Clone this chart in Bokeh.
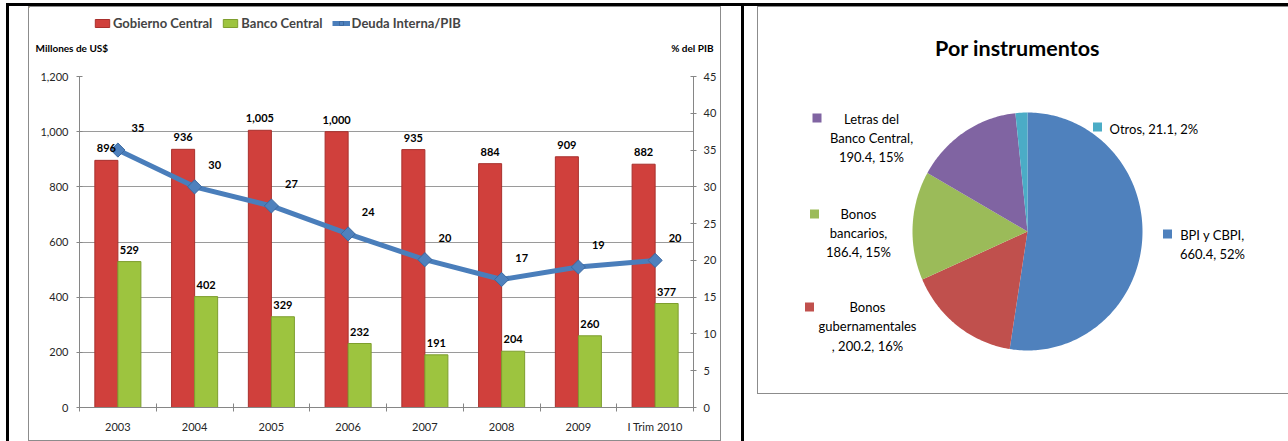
import numpy as np
from bokeh.plotting import figure
from bokeh.models import (Range1d, LinearAxis, FixedTicker, SingleIntervalTicker,
                          NumeralTickFormatter, Legend, LegendItem, Grid, Spacer)
from bokeh.layouts import row, column
from bokeh.core.properties import value
from bokeh.embed import file_html
from bokeh.resources import INLINE

# ---------------- data: bar/line chart ----------------
categories = ["2003", "2004", "2005", "2006", "2007", "2008", "2009", "I Trim 2010"]
gobierno_central = [896, 936, 1005, 1000, 935, 884, 909, 882]
banco_central = [529, 402, 329, 232, 191, 204, 260, 377]
deuda_pib = [35.0, 30.0, 27.4, 23.6, 20.1, 17.4, 19.1, 20.0]
series_names = ["Gobierno Central", "Banco Central", "Deuda Interna/PIB"]
left_axis_title = "Millones de US$"
right_axis_title = "% del PIB"

# ---------------- data: pie chart ----------------
pie_title = "Por instrumentos"
instr_names = ["BPI y CBPI", "Bonos gubernamentales", "Bonos bancarios",
               "Letras del Banco Central", "Otros"]
instr_values = [660.4, 200.2, 186.4, 190.4, 21.1]
instr_label_tpl = ["BPI y CBPI,\n{v}, {p}%", "Bonos\ngubernamentales\n, {v}, {p}%",
                   "Bonos\nbancarios,\n{v}, {p}%", "Letras del\nBanco Central,\n{v}, {p}%",
                   "Otros, {v}, {p}%"]

# ---------------- styles ----------------
RED, RED_L = "#D0403C", "#A8302D"
GREEN, GREEN_L = "#9DC43F", "#7E9E2E"
BLUE, BLUE_L = "#4A7EBB", "#3C69A0"
PIE_COLORS = ["#4F81BD", "#C0504D", "#9BBB59", "#8064A2", "#4BACC6"]
AXIS_C = "#868686"
GRID_C = "#9A9A9A"
FRAME_C = "#8C8C8C"
FONT = "Lato"


def bar(w, h, color=None):
    if color is None:
        return Spacer(width=w, height=h)
    return Spacer(width=w, height=h, styles={"background-color": color})


def base_fig(w, h, xr, yr, **kw):
    f = figure(width=w, height=h, x_range=xr, y_range=yr, output_backend="svg",
               toolbar_location=None, x_axis_type=None, y_axis_type=None, **kw)
    f.outline_line_color = None
    f.frame_align = False
    return f


# ======================= header of left chart =======================
hd = base_fig(691, 55, Range1d(29, 720), Range1d(62, 7), min_border=0)
# legend sample renderers (their single point lies outside the visible range)
d_red = hd.vbar(x=[0], top=[0], width=1, fill_color=RED, line_color=RED_L)
d_green = hd.vbar(x=[0], top=[0], width=1, fill_color=GREEN, line_color=GREEN_L)
d_line = hd.line(x=[0, 1], y=[0, 0], line_color=BLUE, line_width=5)
d_pts = hd.scatter(x=[0], y=[0], marker="square", angle=np.pi / 4, size=10,
                   fill_color="#4F81BD", line_color=BLUE_L)
legend = Legend(items=[LegendItem(label=series_names[0], renderers=[d_red]),
                       LegendItem(label=series_names[1], renderers=[d_green]),
                       LegendItem(label=series_names[2], renderers=[d_line, d_pts])],
                orientation="horizontal", location=(64, 31),
                background_fill_alpha=0, border_line_color=None, padding=0, margin=0,
                spacing=9, label_standoff=2, glyph_width=18, glyph_height=10,
                label_text_font=FONT, label_text_font_style="bold",
                label_text_font_size="13px")
hd.add_layout(legend)
ttl_kw = dict(text_font=value(FONT), text_font_style="bold", text_font_size="10px",
              text_color="black", text_baseline="middle")
hd.text(x=[35], y=[47], text=[left_axis_title], text_align="left", **ttl_kw)
hd.text(x=[713], y=[47], text=[right_axis_title], text_align="right", **ttl_kw)

# ======================= left chart =======================
n = len(categories)
xc = np.arange(n) + 0.5
bw = 0.3

p = base_fig(691, 378, Range1d(0, n), Range1d(0, 1200),
             min_border_left=50, min_border_right=27, min_border_top=14, min_border_bottom=33)
p.extra_y_ranges = {"pct": Range1d(0, 45)}

lt = SingleIntervalTicker(interval=200)
rt = SingleIntervalTicker(interval=5)
p.add_layout(Grid(dimension=1, ticker=lt, grid_line_color=GRID_C, grid_line_width=1))

yl = LinearAxis(ticker=lt, formatter=NumeralTickFormatter(format="0,0"))
yr = LinearAxis(ticker=rt, y_range_name="pct")
xb = LinearAxis(ticker=FixedTicker(ticks=list(xc), minor_ticks=list(range(n + 1))),
                major_label_overrides={float(x): c for x, c in zip(xc, categories)})
for ax in (yl, yr, xb):
    ax.axis_line_color = AXIS_C
    ax.major_tick_line_color = AXIS_C
    ax.minor_tick_line_color = AXIS_C
    ax.major_label_text_font = FONT
    ax.major_label_text_font_size = "11px"
    ax.major_label_text_color = "#262626"
for ax in (yl, yr):
    ax.major_tick_in = 3
    ax.major_tick_out = 3
    ax.minor_tick_line_color = None
yl.major_label_standoff = 7
yr.major_label_standoff = 6
xb.major_tick_in = 0
xb.major_tick_out = 0
xb.minor_tick_in = 4
xb.minor_tick_out = 4
xb.major_label_standoff = 8
p.add_layout(yl, "left")
p.add_layout(yr, "right")
p.add_layout(xb, "below")

p.vbar(x=xc - bw / 2, top=gobierno_central, width=bw, fill_color=RED, line_color=RED_L)
p.vbar(x=xc + bw / 2, top=banco_central, width=bw, fill_color=GREEN, line_color=GREEN_L)
p.line(x=xc, y=deuda_pib, y_range_name="pct", line_color=BLUE, line_width=5)
p.scatter(x=xc, y=deuda_pib, y_range_name="pct", marker="square", angle=np.pi / 4,
          size=10, fill_color="#4F81BD", line_color=BLUE_L)

lab_kw = dict(text_font=value(FONT), text_font_style="bold", text_font_size="11px",
              text_color="black")
p.text(x=xc - bw / 2, y=gobierno_central, text=[f"{v:,}" for v in gobierno_central],
       text_align="center", text_baseline="bottom", y_offset=-8, **lab_kw)
p.text(x=xc + bw / 2, y=banco_central, text=[f"{v:,}" for v in banco_central],
       text_align="center", text_baseline="bottom", y_offset=-8, **lab_kw)
p.text(x=xc, y=deuda_pib, y_range_name="pct", text=[f"{v:.0f}" for v in deuda_pib],
       text_align="center", text_baseline="middle", x_offset=20, y_offset=-22, **lab_kw)

# ======================= pie chart =======================
q = base_fig(530, 386, Range1d(758, 1288), Range1d(393, 7), min_border=0)
q.xgrid.visible = False
q.ygrid.visible = False

total = sum(instr_values)
frac = np.concatenate([[0.0], np.cumsum(instr_values)]) / total
cx, cy, rx, ry = 1027.0, 231.0, 115.0, 119.0
xs, ys = [], []
for a0, a1 in zip(frac[:-1], frac[1:]):
    t = np.linspace(a0, a1, max(int((a1 - a0) * 360), 2) + 1) * 2 * np.pi
    xs.append(np.concatenate([[cx], cx + rx * np.sin(t)]))
    ys.append(np.concatenate([[cy], cy - ry * np.cos(t)]))
q.patches(xs=xs, ys=ys, fill_color=PIE_COLORS, line_color=None)

pcts = [round(v / total * 100) for v in instr_values]
labels = [tpl.format(n=nm, v=v, p=pc) for tpl, nm, v, pc in
          zip(instr_label_tpl, instr_names, instr_values, pcts)]

# label layout (positions of label blocks and their colour keys)
lab_x = [1212, 867, 858, 871, 1109]
lab_y = [244, 326, 232.5, 137.5, 128]
key_x = [1167, 809, 814, 816.5, 1097]
key_y = [233.5, 306.5, 213.5, 117.5, 126.5]

pie_kw = dict(text_font=value(FONT), text_font_size="13px", text_color="black",
              text_baseline="middle", text_line_height=1.2)
q.text(x=lab_x[:4], y=lab_y[:4], text=labels[:4], text_align="center", **pie_kw)
q.text(x=lab_x[4:], y=lab_y[4:], text=labels[4:], text_align="left", **pie_kw)
q.scatter(x=key_x, y=key_y, marker="square", size=9, fill_color=PIE_COLORS, line_color=None)

q.text(x=[1017], y=[47], text=[pie_title], text_align="center", text_baseline="middle",
       text_font=value(FONT), text_font_style="bold", text_font_size="21.5px",
       text_color="black")

# ======================= page layout (table borders, chart frames) =======================
left_box = column(
    bar(693, 1, FRAME_C),
    row(bar(1, 433, FRAME_C), column(hd, p), bar(1, 433, FRAME_C)),
    bar(693, 1, FRAME_C),
)
right_box = column(
    bar(531, 1, FRAME_C),
    row(bar(1, 386, FRAME_C), q),
    bar(531, 1, FRAME_C),
)
root = column(
    bar(1288, 3),
    row(bar(6, 3), bar(1282, 3, "#000000")),
    row(bar(6, 435), bar(3, 435, "#000000"), bar(19, 435), left_box, bar(20, 435),
        bar(3, 435, "#000000"), bar(13, 435), right_box),
)

open("out.html", "w").write(file_html(root, INLINE))
